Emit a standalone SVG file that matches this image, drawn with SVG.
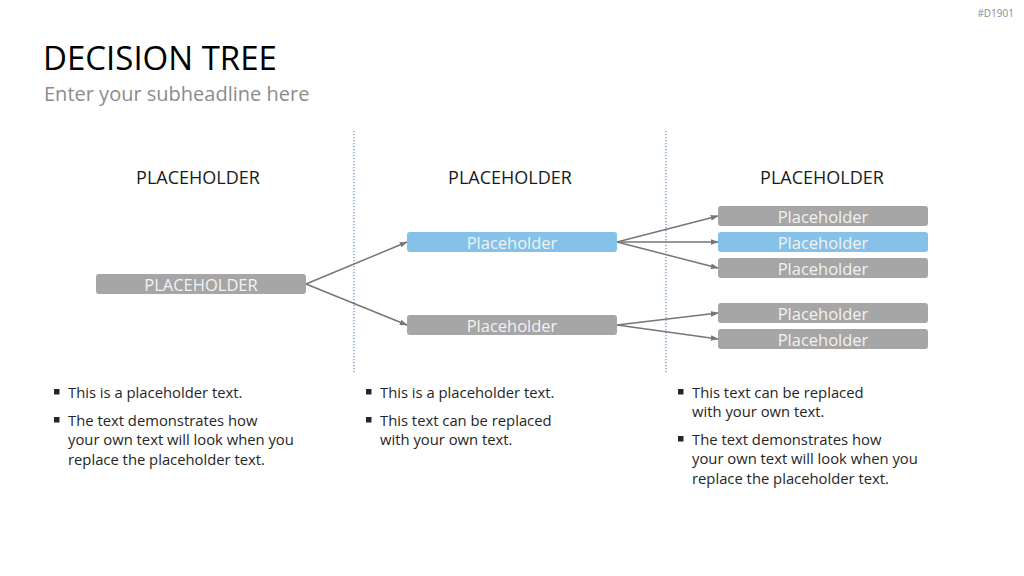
<svg xmlns="http://www.w3.org/2000/svg" width="1024" height="576" viewBox="0 0 1024 576">
<defs>
<marker id="ah" viewBox="0 0 10 10" refX="9" refY="5" markerWidth="8" markerHeight="8" orient="auto" markerUnits="userSpaceOnUse">
<path d="M0,1.5 L10,5 L0,8.5 z" fill="#767676"/>
</marker>
<style>
text{font-family:"Open Sans","Liberation Sans",sans-serif}
.title{font-size:33px;fill:#000}
.sub{font-size:20px;fill:#8c8c8c}
.tag{font-size:10px;fill:#8c8c8c}
.head{font-size:18px;fill:#1a1a1a;text-anchor:middle}
.gray{fill:#a6a6a6}
.blue{fill:#85c1e9}
.nt{font-size:16.5px;fill:#f2f2f2;text-anchor:middle;dominant-baseline:central}
.div{stroke:#6f95c4;stroke-width:1.3;stroke-dasharray:1.3 1.7}
.conn line{stroke:#767676;stroke-width:1.5;marker-end:url(#ah)}
.bt{font-size:14.8px;fill:#262626}
.bu{fill:#262626}
</style>
</defs>
<rect width="1024" height="576" fill="#fff"/>
<text class="tag" x="1014" y="17" text-anchor="end">#D1901</text>
<text class="title" x="43" y="70">DECISION TREE</text>
<text class="sub" x="44" y="101">Enter your subheadline here</text>

<line class="div" x1="354" y1="131" x2="354" y2="372"/>
<line class="div" x1="666" y1="131" x2="666" y2="372"/>

<text class="head" x="198" y="184">PLACEHOLDER</text>
<text class="head" x="510" y="184">PLACEHOLDER</text>
<text class="head" x="822" y="184">PLACEHOLDER</text>

<g class="conn">
<line x1="306" y1="284" x2="407" y2="242"/>
<line x1="306" y1="284" x2="407" y2="325"/>
<line x1="617" y1="242" x2="718" y2="216"/>
<line x1="617" y1="242" x2="718" y2="242"/>
<line x1="617" y1="242" x2="718" y2="268"/>
<line x1="617" y1="325" x2="718" y2="313"/>
<line x1="617" y1="325" x2="718" y2="339"/>
</g>

<g id="root"><rect class="gray" x="96" y="274" width="210" height="20" rx="3"/><text class="nt" x="201" y="284.5">PLACEHOLDER</text></g>
<g id="mid1"><rect class="blue" x="407" y="232" width="210" height="20" rx="3"/><text class="nt" x="512" y="242.5">Placeholder</text></g>
<g id="mid2"><rect class="gray" x="407" y="315" width="210" height="20" rx="3"/><text class="nt" x="512" y="325.5">Placeholder</text></g>
<g id="r1"><rect class="gray" x="718" y="206" width="210" height="20" rx="3"/><text class="nt" x="823" y="216.5">Placeholder</text></g>
<g id="r2"><rect class="blue" x="718" y="232" width="210" height="20" rx="3"/><text class="nt" x="823" y="242.5">Placeholder</text></g>
<g id="r3"><rect class="gray" x="718" y="258" width="210" height="20" rx="3"/><text class="nt" x="823" y="268.5">Placeholder</text></g>
<g id="r4"><rect class="gray" x="718" y="303" width="210" height="20" rx="3"/><text class="nt" x="823" y="313.5">Placeholder</text></g>
<g id="r5"><rect class="gray" x="718" y="329" width="210" height="20" rx="3"/><text class="nt" x="823" y="339.5">Placeholder</text></g>

<g id="col1">
<rect class="bu" x="54" y="389" width="5.5" height="5.5"/>
<text class="bt" x="68" y="398">This is a placeholder text.</text>
<rect class="bu" x="54" y="417" width="5.5" height="5.5"/>
<text class="bt" x="68" y="426">The text demonstrates how</text>
<text class="bt" x="68" y="445">your own text will look when you</text>
<text class="bt" x="68" y="465">replace the placeholder text.</text>
</g>
<g id="col2">
<rect class="bu" x="366" y="389" width="5.5" height="5.5"/>
<text class="bt" x="380" y="398">This is a placeholder text.</text>
<rect class="bu" x="366" y="417" width="5.5" height="5.5"/>
<text class="bt" x="380" y="426">This text can be replaced</text>
<text class="bt" x="380" y="445">with your own text.</text>
</g>
<g id="col3">
<rect class="bu" x="678" y="389" width="5.5" height="5.5"/>
<text class="bt" x="692" y="398">This text can be replaced</text>
<text class="bt" x="692" y="417">with your own text.</text>
<rect class="bu" x="678" y="436" width="5.5" height="5.5"/>
<text class="bt" x="692" y="445">The text demonstrates how</text>
<text class="bt" x="692" y="464">your own text will look when you</text>
<text class="bt" x="692" y="484">replace the placeholder text.</text>
</g>
</svg>
